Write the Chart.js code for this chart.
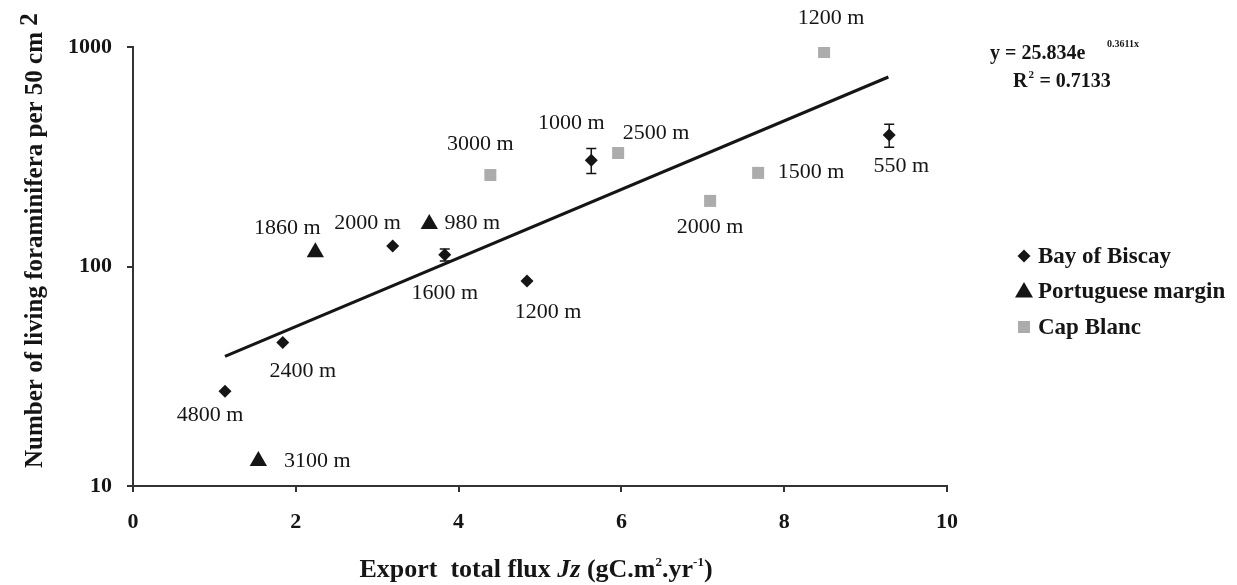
<!DOCTYPE html>
<html>
<head>
<meta charset="utf-8">
<script src="https://cdn.jsdelivr.net/npm/chart.js@4/dist/chart.umd.min.js"></script>
<style>
	html, body { margin: 0; padding: 0; background: #fff; }
	#wrap { width: 1237px; height: 585px; }
</style>
</head>
<body>
<div id="wrap"><canvas id="fluxChart" width="1237" height="585"></canvas></div>
<script>
'use strict';

// values
const biscayFlux = [1.13, 1.84, 3.19, 3.83, 4.84, 5.63, 9.29];
const biscayCount = [27, 45, 124, 113, 86, 305, 397];
const biscayError = [0, 0, 0, 7, 0, 40, 48];
const biscayDepth = ['4800 m', '2400 m', '2000 m', '1600 m', '1200 m', '1000 m', '550 m'];

const portugalFlux = [1.54, 2.24, 3.64];
const portugalCount = [13, 116, 156];
const portugalDepth = ['3100 m', '1860 m', '980 m'];

const capBlancFlux = [4.39, 5.96, 7.09, 7.68, 8.49];
const capBlancCount = [261, 329, 199, 267, 949];
const capBlancDepth = ['3000 m', '2500 m', '2000 m', '1500 m', '1200 m'];

const trendFlux = [1.13, 9.28];
const trendCount = [39, 730];

const xTicks = [0, 2, 4, 6, 8, 10];
const yTicks = [10, 100, 1000];
const seriesNames = ['Bay of Biscay', 'Portuguese margin', 'Cap Blanc'];

// where each depth label sits relative to its point (px)
const biscayLabelPos = [[-15, 24], [20, 29], [-25, -23], [0, 38], [21, 31], [-20, -37], [12, 31]];
const portugalLabelPos = [[59, 0], [-28, -24], [43, -1]];
const capBlancLabelPos = [[-10, -31], [38, -20], [0, 26], [53, -1], [7, -34]];

const SERIF = '"Liberation Serif", "Times New Roman", serif';
const INK = '#151515';

function toPoints(xs, ys) {
	return xs.map((x, i) => ({x: x, y: ys[i]}));
}

function drawMarker(ctx, style, x, y) {
	ctx.save();
	if (style === 'diamond') {
		ctx.fillStyle = INK;
		ctx.beginPath();
		ctx.moveTo(x - 6.5, y);
		ctx.lineTo(x, y - 6.5);
		ctx.lineTo(x + 6.5, y);
		ctx.lineTo(x, y + 6.5);
		ctx.closePath();
		ctx.fill();
	} else if (style === 'triangle') {
		ctx.fillStyle = INK;
		ctx.beginPath();
		ctx.moveTo(x, y - 9);
		ctx.lineTo(x + 9, y + 6.5);
		ctx.lineTo(x - 9, y + 6.5);
		ctx.closePath();
		ctx.fill();
	} else {
		ctx.fillStyle = '#acacac';
		ctx.fillRect(x - 6, y - 6, 12, 12);
	}
	ctx.restore();
}

const extras = {
	id: 'extras',
	afterDatasetsDraw(chart) {
		const ctx = chart.ctx;
		const xs = chart.scales.x;
		const ys = chart.scales.y;

		// error bars on the Bay of Biscay stations
		ctx.save();
		ctx.strokeStyle = INK;
		ctx.lineWidth = 1.5;
		biscayFlux.forEach((f, i) => {
			if (!biscayError[i]) return;
			const px = xs.getPixelForValue(f);
			const top = ys.getPixelForValue(biscayCount[i] + biscayError[i]);
			const bot = ys.getPixelForValue(biscayCount[i] - biscayError[i]);
			ctx.beginPath();
			ctx.moveTo(px, top); ctx.lineTo(px, bot);
			ctx.moveTo(px - 5, top); ctx.lineTo(px + 5, top);
			ctx.moveTo(px - 5, bot); ctx.lineTo(px + 5, bot);
			ctx.stroke();
		});
		ctx.restore();

		// depth labels
		ctx.save();
		ctx.font = '22px ' + SERIF;
		ctx.fillStyle = INK;
		ctx.textAlign = 'center';
		ctx.textBaseline = 'middle';
		const groups = [
			[biscayFlux, biscayCount, biscayDepth, biscayLabelPos],
			[portugalFlux, portugalCount, portugalDepth, portugalLabelPos],
			[capBlancFlux, capBlancCount, capBlancDepth, capBlancLabelPos]
		];
		groups.forEach(g => {
			g[0].forEach((f, i) => {
				const px = xs.getPixelForValue(f) + g[3][i][0];
				const py = ys.getPixelForValue(g[1][i]) + g[3][i][1];
				ctx.fillText(g[2][i], px, py);
			});
		});
		ctx.restore();
	},
	afterDraw(chart) {
		const ctx = chart.ctx;
		ctx.save();
		ctx.fillStyle = INK;
		ctx.textBaseline = 'alphabetic';
		ctx.textAlign = 'left';

		// x axis title with italic Jz and superscripts
		const parts = [
			['bold 26px ', 'Export  total flux ', 0],
			['italic bold 26px ', 'Jz', 0],
			['bold 26px ', ' (gC.m', 0],
			['bold 13px ', '2', -11],
			['bold 26px ', '.yr', 0],
			['bold 13px ', '-1', -11],
			['bold 26px ', ')', 0]
		];
		let total = 0;
		parts.forEach(p => { ctx.font = p[0] + SERIF; total += ctx.measureText(p[1]).width; });
		let cx = 536 - total / 2;
		parts.forEach(p => {
			ctx.font = p[0] + SERIF;
			ctx.fillText(p[1], cx, 577 + p[2]);
			cx += ctx.measureText(p[1]).width;
		});

		// y axis title, rotated, with the raised 2
		ctx.save();
		ctx.translate(42, 468);
		ctx.rotate(-Math.PI / 2);
		ctx.font = 'bold 25px ' + SERIF;
		const yTitle = 'Number of living foraminifera per 50 cm';
		ctx.fillText(yTitle, 0, 0);
		const w = ctx.measureText(yTitle + ' ').width;
		ctx.fillText('2', w, -5);
		ctx.restore();

		// regression equation
		ctx.font = 'bold 20px ' + SERIF;
		ctx.fillText('y = 25.834e', 990, 59);
		ctx.font = 'bold 10px ' + SERIF;
		ctx.fillText('0.3611x', 1107, 47);
		ctx.font = 'bold 20px ' + SERIF;
		ctx.fillText('R', 1013, 87);
		const rw = ctx.measureText('R').width;
		ctx.font = 'bold 11px ' + SERIF;
		ctx.fillText('2', 1013 + rw + 1, 78);
		ctx.font = 'bold 20px ' + SERIF;
		ctx.fillText(' = 0.7133', 1013 + rw + 7, 87);

		// legend
		const styles = ['diamond', 'triangle', 'square'];
		const rows = [256, 291, 327];
		ctx.font = 'bold 23px ' + SERIF;
		ctx.textBaseline = 'middle';
		seriesNames.forEach((name, i) => {
			drawMarker(ctx, styles[i], 1024, rows[i]);
			ctx.fillStyle = INK;
			ctx.fillText(name, 1038, rows[i] + 1);
		});
		ctx.restore();
	}
};

const config = {
	type: 'scatter',
	data: {
		datasets: [
			{
				label: 'trend',
				data: toPoints(trendFlux, trendCount),
				showLine: true,
				borderColor: INK,
				borderWidth: 3,
				pointRadius: 0
			},
			{
				label: seriesNames[0],
				data: toPoints(biscayFlux, biscayCount),
				pointStyle: 'rectRot',
				pointRadius: 6.5,
				backgroundColor: INK,
				borderColor: INK,
				borderWidth: 0
			},
			{
				label: seriesNames[1],
				data: toPoints(portugalFlux, portugalCount),
				pointStyle: 'triangle',
				pointRadius: 10,
				backgroundColor: INK,
				borderColor: INK,
				borderWidth: 0
			},
			{
				label: seriesNames[2],
				data: toPoints(capBlancFlux, capBlancCount),
				pointStyle: 'rect',
				pointRadius: 8.5,
				backgroundColor: '#acacac',
				borderColor: '#acacac',
				borderWidth: 0
			}
		]
	},
	options: {
		responsive: false,
		animation: false,
		devicePixelRatio: 1,
		layout: {
			padding: {left: 0, top: 47, right: 290, bottom: 0}
		},
		plugins: {
			legend: {display: false},
			tooltip: {enabled: false}
		},
		scales: {
			x: {
				type: 'linear',
				min: 0,
				max: 10,
				afterBuildTicks: (scale) => { scale.ticks = xTicks.map(v => ({value: v})); },
				afterFit: (scale) => { scale.height = 99; },
				ticks: {
					color: INK,
					padding: 17,
					font: {family: SERIF, size: 22, weight: 'bold'}
				},
				grid: {drawOnChartArea: false, tickLength: 6, color: '#333', lineWidth: 2},
				border: {color: '#333', width: 2}
			},
			y: {
				type: 'logarithmic',
				min: 10,
				max: 1000,
				afterBuildTicks: (scale) => { scale.ticks = yTicks.map(v => ({value: v})); },
				afterFit: (scale) => { scale.width = 133; },
				ticks: {
					color: INK,
					padding: 15,
					font: {family: SERIF, size: 22, weight: 'bold'},
					callback: (v) => String(v)
				},
				grid: {drawOnChartArea: false, tickLength: 6, color: '#333', lineWidth: 2},
				border: {color: '#333', width: 2}
			}
		}
	},
	plugins: [extras]
};

window.addEventListener('load', function() {
	const ctx = document.getElementById('fluxChart').getContext('2d');
	const fluxChart = new Chart(ctx, config);
}, false);
</script>
</body>
</html>
